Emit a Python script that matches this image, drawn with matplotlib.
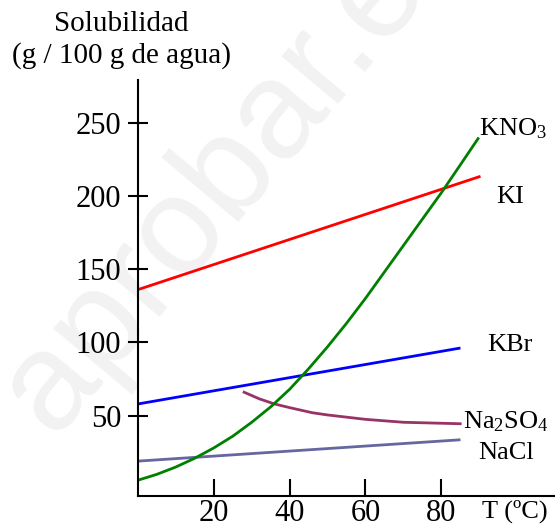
import numpy as np
import matplotlib
matplotlib.use('Agg')
import matplotlib.pyplot as plt

plt.rcParams['font.family'] = ['Liberation Serif', 'DejaVu Serif']
plt.rcParams['mathtext.fontset'] = 'custom'
plt.rcParams['mathtext.rm'] = 'Liberation Serif'
plt.rcParams['mathtext.it'] = 'Liberation Serif'
plt.rcParams['mathtext.default'] = 'rm'

# solubility curves (g / 100 g de agua) vs T (ºC)
t_ki = [0, 90]
s_ki = [136, 213]

t_kbr = [0, 84.7]
s_kbr = [58, 96]

t_nacl = [0, 84.7]
s_nacl = [19, 33.5]

t_na2so4 = [28, 32, 36, 40, 46, 50, 60, 70, 85]
s_na2so4 = [66, 61.5, 58, 55.5, 52, 50.5, 47.5, 45.5, 44.5]

t_kno3 = [0, 5, 10, 15, 20, 25, 30, 35, 40, 45, 50, 55, 60, 65, 70, 75, 80, 85, 89.7]
s_kno3 = [6, 10, 15, 21, 28, 36, 45.5, 56, 68, 82, 97, 113, 130, 148, 166, 184, 202, 221, 239]

x_ticks = [20, 40, 60, 80]
y_ticks = [50, 100, 150, 200, 250]

fig = plt.figure(figsize=(5.55, 5.27), dpi=100)

# faint watermark behind everything
fig.text(0.095, 0.17, 'aprobar.es', fontsize=100, color='#f2f2f2',
         family='Liberation Sans', rotation=50, rotation_mode='anchor',
         ha='left', va='baseline', zorder=-1)

ax = fig.add_axes([0.2486, 0.0588, 0.7514, 0.7894])
ax.patch.set_alpha(0)

ax.plot(t_ki, s_ki, color='#ff0000', lw=2)
ax.plot(t_kbr, s_kbr, color='#0000ff', lw=2)
ax.plot(t_nacl, s_nacl, color='#6666a0', lw=2)
ax.plot(t_na2so4, s_na2so4, color='#993366', lw=2)
ax.plot(t_kno3, s_kno3, color='#008000', lw=2)

ax.set_xlim(0, 110)
ax.set_ylim(-4.8, 279)
for side in ['top', 'right']:
    ax.spines[side].set_visible(False)
ax.spines['left'].set_linewidth(1.5)
ax.spines['bottom'].set_linewidth(1.5)

ax.set_xticks(x_ticks)
ax.set_yticks(y_ticks)
ax.tick_params(axis='y', direction='inout', length=14.4, width=1.5, labelsize=22, pad=5)
ax.tick_params(axis='x', direction='in', length=12.5, width=1.5, labelsize=22, pad=2)

fs = 19
ax.text(99, 246, r'KNO$_3$', fontsize=fs, ha='center', va='center')
ax.text(98.2, 199, 'KI', fontsize=fs, ha='center', va='center')
ax.text(98.2, 98, 'KBr', fontsize=fs, ha='center', va='center')
ax.text(97, 46, r'Na$_2$SO$_4$', fontsize=fs, ha='center', va='center')
ax.text(97, 24.5, 'NaCl', fontsize=fs, ha='center', va='center')

fig.text(515 / 555, 1 - 511 / 527, 'T (ºC)', fontsize=fs, ha='center', va='center')
fig.text(121 / 555, 1 - 40 / 527, 'Solubilidad\n(g / 100 g de agua)', fontsize=21,
         ha='center', va='center', linespacing=1.2)

fig.savefig('out.png', dpi=100)
